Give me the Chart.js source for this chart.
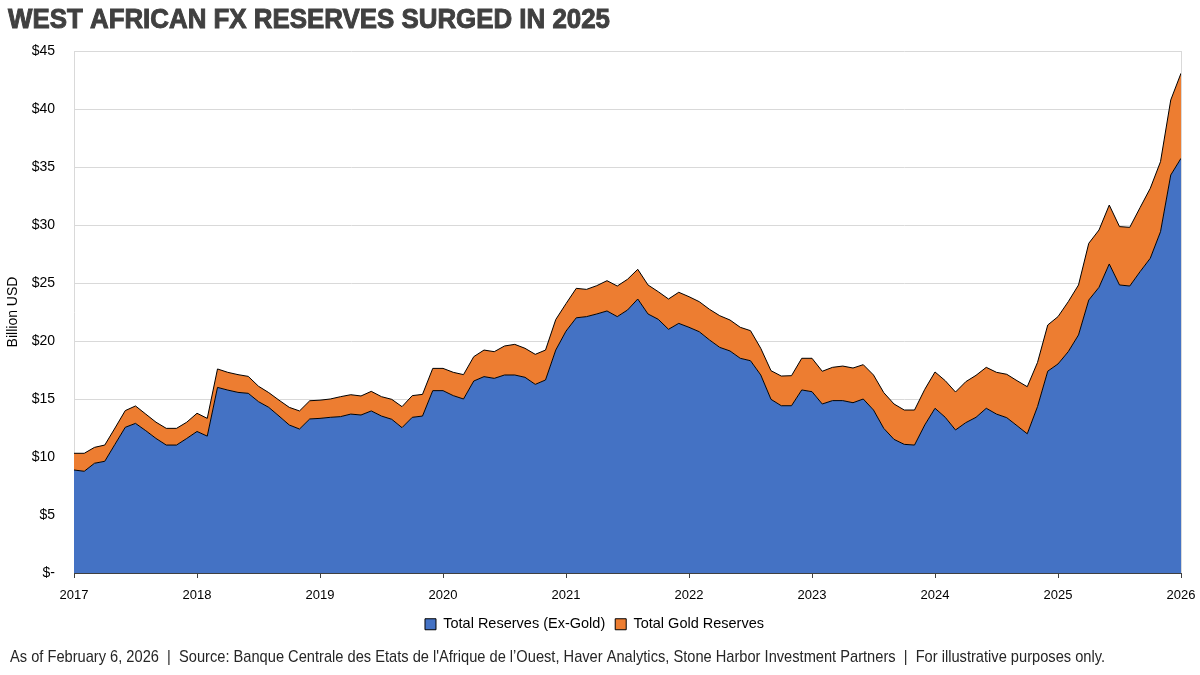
<!DOCTYPE html>
<html>
<head>
<meta charset="utf-8">
<title>West African FX Reserves</title>
<script src="https://cdn.jsdelivr.net/npm/chart.js@4.4.1/dist/chart.umd.min.js"></script>
<style>
  html, body { margin: 0; padding: 0; background: #ffffff; }
  #wrap { position: relative; width: 1200px; height: 675px; }
</style>
</head>
<body>
<div id="wrap"><canvas id="chart"></canvas></div>
<script>
// Monthly data, Jan 2017 .. Jan 2026 (billion USD)
const yearTicks = ["2017", "2018", "2019", "2020", "2021", "2022", "2023", "2024", "2025", "2026"]

const exGold = [
  8.88, 8.77, 9.46, 9.63, 11.1, 12.56, 12.9, 12.27, 11.6, 11.03, 11.03, 11.6,
  12.2, 11.8, 16.0, 15.77, 15.57, 15.49, 14.77, 14.28, 13.53, 12.76, 12.41, 13.28,
  13.33, 13.42, 13.48, 13.7, 13.62, 13.97, 13.53, 13.25, 12.53, 13.42, 13.53, 15.72,
  15.72, 15.29, 15.0, 16.55, 16.93, 16.78, 17.07, 17.07, 16.87, 16.26, 16.64, 19.22,
  20.85, 22.0, 22.1, 22.33, 22.59, 22.1, 22.67, 23.62, 22.33, 21.87, 21.01, 21.52,
  21.18, 20.8, 20.09, 19.45, 19.14, 18.51, 18.3, 17.07, 14.97, 14.42, 14.42, 15.78,
  15.63, 14.57, 14.86, 14.86, 14.68, 15.0, 14.05, 12.47, 11.52, 11.09, 11.03, 12.76,
  14.2, 13.42, 12.33, 12.96, 13.42, 14.2, 13.7, 13.39, 12.7, 12.0, 14.34, 17.4,
  18.02, 19.08, 20.52, 23.53, 24.63, 26.64, 24.83, 24.74, 25.97, 27.13, 29.42, 34.31,
  35.75
]

const gold = [
  1.44, 1.55, 1.37, 1.40, 1.40, 1.44, 1.50, 1.43, 1.40, 1.44, 1.44, 1.40,
  1.57, 1.53, 1.59, 1.53, 1.53, 1.46, 1.33, 1.27, 1.37, 1.52, 1.56, 1.57,
  1.57, 1.58, 1.72, 1.67, 1.64, 1.69, 1.67, 1.72, 1.81, 1.87, 1.87, 1.92,
  1.92, 2.01, 2.10, 2.10, 2.29, 2.30, 2.50, 2.64, 2.50, 2.59, 2.58, 2.63,
  2.37, 2.54, 2.35, 2.44, 2.61, 2.64, 2.65, 2.56, 2.50, 2.38, 2.61, 2.68,
  2.64, 2.59, 2.64, 2.73, 2.67, 2.67, 2.59, 2.30, 2.47, 2.56, 2.59, 2.73,
  2.88, 2.82, 2.87, 2.98, 2.99, 2.96, 3.02, 3.08, 3.05, 2.96, 3.02, 3.07,
  3.13, 3.16, 3.27, 3.53, 3.62, 3.53, 3.60, 3.74, 3.88, 4.06, 3.81, 3.98,
  4.08, 4.31, 4.31, 4.89, 4.94, 5.08, 5.03, 5.06, 5.52, 6.03, 6.04, 6.47,
  7.33
]

const FONT = "'Liberation Sans', Arial, sans-serif"
const titleText = "WEST AFRICAN FX RESERVES SURGED IN 2025"
const footerText = "As of February 6, 2026  |  Source: Banque Centrale des Etats de l'Afrique de l\u2019Ouest, Haver Analytics, Stone Harbor Investment Partners  |  For illustrative purposes only."

// x is month index from Jan 2017
const toPoints = (arr) => arr.map((v, i) => ({ x: i, y: v }))

// Title and footer use condensed fonts in the original, so squeeze them to width
const headerFooter = {
  id: "headerFooter",
  afterDraw(chart) {
    const c = chart.ctx
    c.save()
    c.textAlign = "left"
    c.textBaseline = "alphabetic"

    c.fillStyle = "#404040"
    c.strokeStyle = "#404040"
    c.lineWidth = 1
    c.font = "bold 28px " + FONT
    c.fillText(titleText, 8, 27.5, 602)
    c.strokeText(titleText, 8, 27.5, 602)

    c.fillStyle = "#262626"
    c.font = "17px " + FONT
    c.fillText(footerText, 10, 662, 1095)
    c.restore()
  },
}

const ctx = document.getElementById("chart").getContext("2d")

new Chart(ctx, {
  type: "line",
  data: {
    datasets: [
      {
        label: "Total Reserves (Ex-Gold)",
        data: toPoints(exGold),
        backgroundColor: "#4472C4",
        borderColor: "#000000",
        borderWidth: 1,
        pointRadius: 0,
        tension: 0,
        fill: "origin",
      },
      {
        label: "Total Gold Reserves",
        data: toPoints(gold),
        backgroundColor: "#ED7D31",
        borderColor: "#000000",
        borderWidth: 1,
        pointRadius: 0,
        tension: 0,
        fill: "-1",
      },
    ],
  },
  plugins: [headerFooter],
  options: {
    responsive: true,
    maintainAspectRatio: false,
    animation: false,
    layout: { padding: { left: 8, right: 19, top: 51, bottom: 33.5 } },
    plugins: {
      title: { display: false, text: titleText },
      legend: {
        position: "bottom",
        labels: {
          color: "#000000",
          font: { family: FONT, size: 14.5 },
          boxWidth: 11,
          boxHeight: 11,
          padding: 10,
        },
      },
      tooltip: { enabled: false },
    },
    scales: {
      x: {
        type: "linear",
        min: 0,
        max: 108,
        afterFit: (scale) => {
          scale.height = 34
          scale.paddingLeft = 0
          scale.paddingRight = 0
        },
        ticks: {
          stepSize: 12,
          autoSkip: false,
          maxRotation: 0,
          padding: 9.5,
          color: "#000000",
          font: { family: FONT, size: 13 },
          callback: (v) => yearTicks[v / 12],
        },
        grid: {
          color: (c) => (c.index === yearTicks.length - 1 ? "#d9d9d9" : "rgba(0,0,0,0)"),
          tickColor: "#404040",
          tickLength: 5,
        },
        border: { color: "#404040", width: 1, z: 1 },
      },
      y: {
        stacked: true,
        min: 0,
        max: 45,
        afterFit: (scale) => { scale.width = 66 },
        title: {
          display: true,
          text: "Billion USD",
          color: "#000000",
          font: { family: FONT, size: 14 },
          padding: { top: -3, bottom: 0 },
        },
        ticks: {
          stepSize: 5,
          padding: 19,
          color: "#000000",
          font: { family: FONT, size: 14 },
          callback: (v) => (v === 0 ? "$-" : "$" + v),
        },
        grid: { color: "#d9d9d9", drawTicks: false },
        border: { color: "#d9d9d9" },
      },
    },
  },
})
</script>
</body>
</html>
